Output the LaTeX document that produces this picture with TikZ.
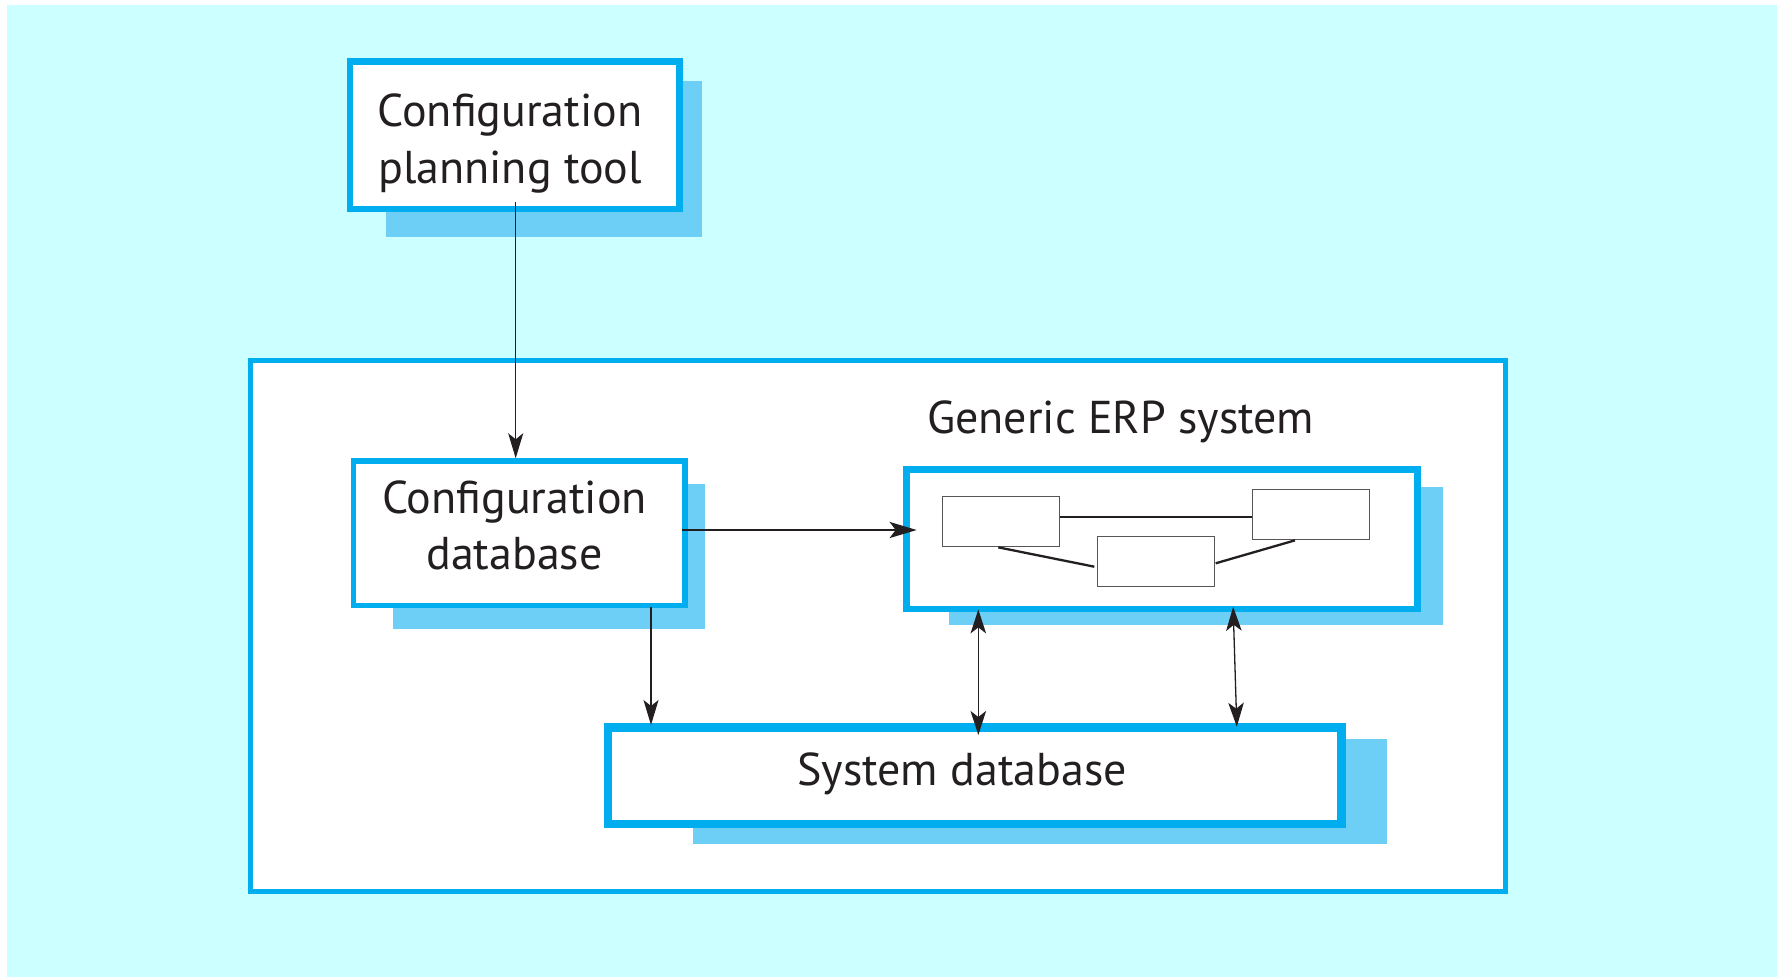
\documentclass[tikz,border=0pt]{standalone}
\usepackage{fontspec}
\setmainfont{PT Sans}
\usetikzlibrary{arrows.meta}
\definecolor{bgcyan}{HTML}{CCFFFF}
\definecolor{erpblue}{HTML}{00AEEF}
\definecolor{shadowblue}{HTML}{6DCFF6}
\definecolor{ink}{HTML}{231F20}
\definecolor{boxgray}{HTML}{555555}
\tikzset{
  bluebox/.style={draw=erpblue, fill=white, line width=#1, inner sep=0pt},
  shadowrect/.style={fill=shadowblue, draw=none},
  smallbox/.style={draw=boxgray, fill=white, line width=1.3pt, inner sep=0pt, minimum width=117pt, minimum height=50pt},
  txt/.style={text=ink, inner sep=0pt, align=center, font=\fontsize{46}{56.7}\selectfont},
  thinarrow/.style={draw=ink, line width=1.3pt, -{Stealth[length=25pt, width=15pt, inset=6pt]}},
  dblarrow/.style={draw=ink, line width=1.3pt, {Stealth[length=24pt, width=15.5pt, inset=6pt]}-{Stealth[length=24pt, width=15.5pt, inset=6pt]}},
  thickarrow/.style={draw=ink, line width=2.4pt, -{Stealth[length=27pt, width=16pt, inset=6pt]}},
  linkline/.style={draw=ink, line width=2.3pt}
}
\begin{document}
\begin{tikzpicture}[x=1pt, y=-1pt]
\useasboundingbox (0,0) rectangle (1777,977);
\fill[white] (0,0) rectangle (1777,977);
\fill[bgcyan] (7,5) rectangle (1777,977);
% outer system frame
\node[bluebox=5pt, minimum width=1255pt, minimum height=531.3pt] (frame) at (878.3,625.8) {};
% shadows
\fill[shadowrect] (386,81) rectangle (701.7,236.7);
\fill[shadowrect] (393,484) rectangle (704.7,629.3);
\fill[shadowrect] (949,487) rectangle (1442.7,625.3);
\fill[shadowrect] (692.7,738.7) rectangle (1387.3,844.3);
% main boxes
\node[bluebox=6.7pt, minimum width=329.3pt, minimum height=147.3pt] (cpt) at (514.7,135.3) {};
\node[bluebox=5.5pt, minimum width=331.5pt, minimum height=144.5pt] (cd) at (519.2,533.3) {};
\node[bluebox=6.7pt, minimum width=510.7pt, minimum height=139.7pt] (erp) at (1162,539.2) {};
\node[bluebox=8.3pt, minimum width=733.3pt, minimum height=96.7pt] (sd) at (974.8,775.8) {};
% small component boxes inside ERP
\node[smallbox] (ca) at (1000.8,521.7) {};
\node[smallbox] (cb) at (1311.3,514.7) {};
\node[smallbox] (cc) at (1155.8,561.7) {};
\coordinate (l1) at ([yshift=5pt]ca.east);
\draw[linkline] (l1) -- (l1 -| cb.west);
\draw[linkline] ([xshift=-2.5pt]ca.south) -- ([xshift=-2.3pt,yshift=-5pt]cc.west);
\draw[linkline] ([xshift=0.7pt,yshift=-1.6pt]cc.east) -- ([xshift=-16.3pt]cb.south);
% texts
\node[txt] (cpt-t) at (510,143.7) {\strut Configuration\\\strut planning tool};
\node[txt] (cd-t) at (514.5,530.3) {\strut Configuration\\\strut database};
\node[txt, anchor=base] (erp-t) at (1120.7,433.3) {\strut Generic ERP system};
\node[txt, anchor=base] (sd-t) at (962,785) {\strut System database};
% connectors
\coordinate (a1) at ([xshift=1pt]cpt.south);
\draw[thinarrow, shorten <=-10pt] (a1) -- (a1 |- cd.north);
\coordinate (a2) at ([yshift=3.3pt]cd.east);
\draw[thickarrow, shorten <=-5.7pt, shorten >=-13.4pt] (a2) -- (a2 -| erp.west);
\coordinate (a3) at ([xshift=131.8pt]cd.south);
\draw[thinarrow, shorten <=-1.6pt, shorten >=-1.7pt] (a3) -- (a3 |- sd.north);
\coordinate (a4) at ([xshift=-183.7pt]erp.south);
\draw[dblarrow, shorten <=-3pt, shorten >=-11.7pt] (a4) -- (a4 |- sd.north);
\coordinate (a5) at ([xshift=71.3pt]erp.south);
\coordinate (a6) at ([xshift=74.7pt]erp.south |- sd.north);
\draw[dblarrow, shorten <=-5.6pt, shorten >=-3.4pt] (a5) -- (a6);
\end{tikzpicture}
\end{document}
